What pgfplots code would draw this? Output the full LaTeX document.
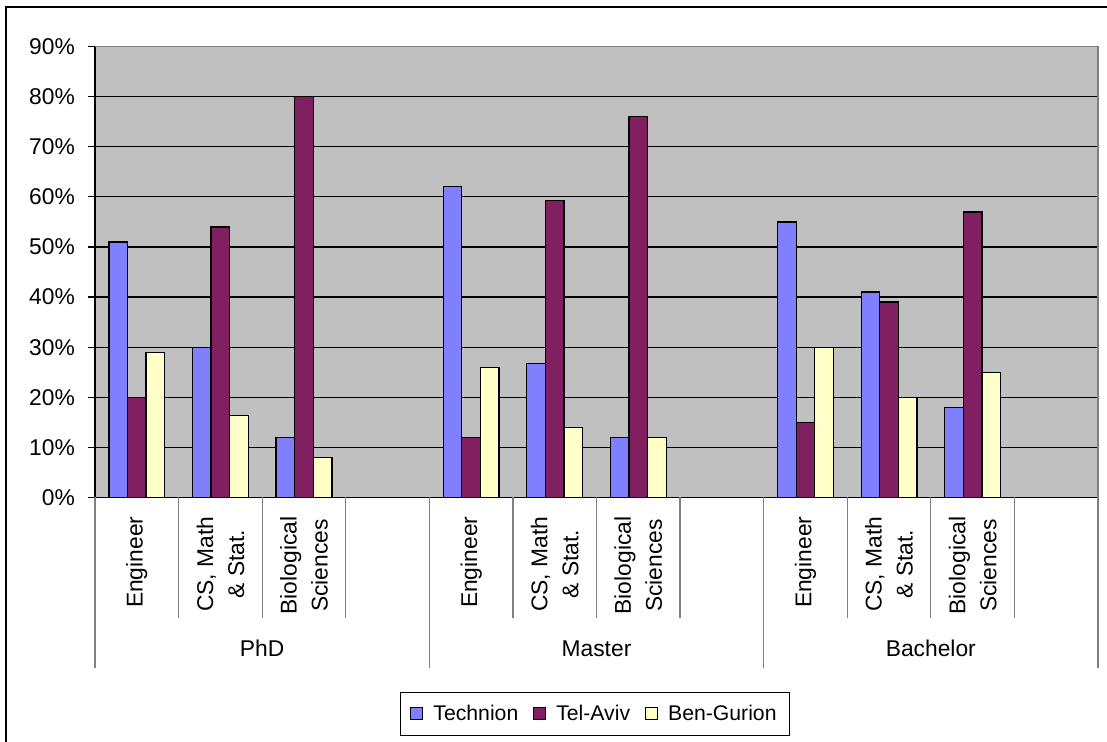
\documentclass[border=0pt]{standalone}
\usepackage{fontspec}
\setmainfont{Liberation Sans}
\usepackage{pgfplots}
\usepackage{pgfplotstable}
\pgfplotsset{compat=1.18}
\definecolor{tech}{RGB}{128,128,255}
\definecolor{tel}{RGB}{128,32,96}
\definecolor{ben}{RGB}{255,255,200}
\definecolor{plotbg}{RGB}{192,192,192}
\definecolor{sepgray}{RGB}{128,128,128}

\pgfplotstableread{
x tech tel ben
0 51 20 29
1 30 54 16.3
2 12 80 8
4 62 12 26
5 26.8 59.2 14
6 12 76 12
8 55 15 30
9 41 39 20
10 18 57 25
}\data

\newcommand{\lab}{\fontsize{22.8}{31}\selectfont}

\begin{document}
\begin{tikzpicture}[x=1pt,y=1pt]
\path[use as bounding box] (0,0) rectangle (1107,741);
\draw[line width=2pt] (6,-20) -- (6,734) -- (1130,734);
\begin{axis}[
  at={(95pt,243.5pt)}, anchor=south west,
  scale only axis, width=1003pt, height=451pt,
  xmin=-0.5, xmax=11.5, ymin=0, ymax=90,
  ybar=0pt, bar width=18.6pt,
  axis background/.style={fill=plotbg},
  axis x line*=bottom, axis y line*=left,
  axis line style={-, black, line width=1.3pt},
  xtick=\empty,
  ytick={0,10,...,90},
  yticklabel={\pgfmathprintnumber[assume math mode=true]{\tick}\%},
  yticklabel style={inner sep=0pt, xshift=-13pt, font=\lab},
  tick align=outside, major tick length=7pt,
  tick style={black, line width=1.2pt},
  ymajorgrids, grid style={black, line width=1.2pt},
  clip=false,
  legend columns=3,
  legend style={at={(0.4985,-0.4796)}, anchor=center, draw=black, line width=1pt,
    fill=white, font=\fontsize{21.2}{25}\selectfont, inner xsep=10pt, inner ysep=10pt,
    column sep=0pt,
    /tikz/every odd column/.append style={column sep=7pt},
    /tikz/every even column/.append style={column sep=12pt},
    nodes={inner sep=3pt}},
  legend image code/.code={\draw[#1, line width=1pt] (0pt,-6pt) rectangle (12pt,6pt);},
]
\addplot[fill=tech, draw=black, line width=1.3pt] table[x=x, y=tech]{\data};
\addplot[fill=tel, draw=black, line width=1.3pt] table[x=x, y=tel]{\data};
\addplot[fill=ben, draw=black, line width=1.3pt] table[x=x, y=ben]{\data};
\legend{Technion, Tel-Aviv, Ben-Gurion\hspace{9pt}}

\draw[sepgray, line width=1.3pt] (rel axis cs:0,1) -- (rel axis cs:1,1) -- (rel axis cs:1,0);

% category separators
\draw[sepgray, line width=1.3pt] (axis cs:-0.5,0) -- ++(0pt,-170pt);
\draw[sepgray, line width=1.3pt] (axis cs:0.5,0) -- ++(0pt,-120pt);
\draw[sepgray, line width=1.3pt] (axis cs:1.5,0) -- ++(0pt,-120pt);
\draw[sepgray, line width=1.3pt] (axis cs:2.5,0) -- ++(0pt,-120pt);
\draw[sepgray, line width=1.3pt] (axis cs:3.5,0) -- ++(0pt,-170pt);
\draw[sepgray, line width=1.3pt] (axis cs:4.5,0) -- ++(0pt,-120pt);
\draw[sepgray, line width=1.3pt] (axis cs:5.5,0) -- ++(0pt,-120pt);
\draw[sepgray, line width=1.3pt] (axis cs:6.5,0) -- ++(0pt,-120pt);
\draw[sepgray, line width=1.3pt] (axis cs:7.5,0) -- ++(0pt,-170pt);
\draw[sepgray, line width=1.3pt] (axis cs:8.5,0) -- ++(0pt,-120pt);
\draw[sepgray, line width=1.3pt] (axis cs:9.5,0) -- ++(0pt,-120pt);
\draw[sepgray, line width=1.3pt] (axis cs:10.5,0) -- ++(0pt,-120pt);
\draw[sepgray, line width=1.3pt] (axis cs:11.5,0) -- ++(0pt,-170pt);

% category labels
\node[yshift=-19pt, rotate=90, anchor=east, align=center, inner sep=0pt, font=\lab] at (axis cs:0,0) {Engineer};
\node[yshift=-19pt, rotate=90, anchor=east, align=center, inner sep=0pt, font=\lab] at (axis cs:1,0) {CS, Math\\\& Stat.};
\node[yshift=-19pt, rotate=90, anchor=east, align=center, inner sep=0pt, font=\lab] at (axis cs:2,0) {Biological\\Sciences};
\node[yshift=-19pt, rotate=90, anchor=east, align=center, inner sep=0pt, font=\lab] at (axis cs:4,0) {Engineer};
\node[yshift=-19pt, rotate=90, anchor=east, align=center, inner sep=0pt, font=\lab] at (axis cs:5,0) {CS, Math\\\& Stat.};
\node[yshift=-19pt, rotate=90, anchor=east, align=center, inner sep=0pt, font=\lab] at (axis cs:6,0) {Biological\\Sciences};
\node[yshift=-19pt, rotate=90, anchor=east, align=center, inner sep=0pt, font=\lab] at (axis cs:8,0) {Engineer};
\node[yshift=-19pt, rotate=90, anchor=east, align=center, inner sep=0pt, font=\lab] at (axis cs:9,0) {CS, Math\\\& Stat.};
\node[yshift=-19pt, rotate=90, anchor=east, align=center, inner sep=0pt, font=\lab] at (axis cs:10,0) {Biological\\Sciences};

% group labels
\node[yshift=-151pt, font=\lab] at (axis cs:1.5,0) {PhD};
\node[yshift=-151pt, font=\lab] at (axis cs:5.5,0) {Master};
\node[yshift=-151pt, font=\lab] at (axis cs:9.5,0) {Bachelor};
\end{axis}
\end{tikzpicture}
\end{document}
